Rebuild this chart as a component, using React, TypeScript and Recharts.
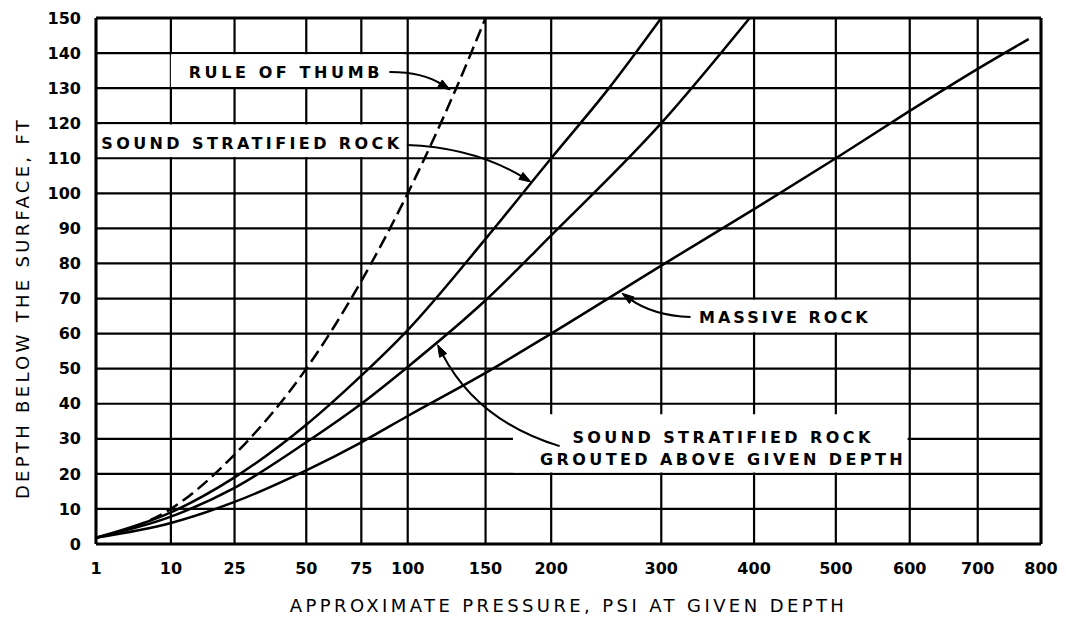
import React from 'react';
import {
  LineChart,
  Line,
  XAxis,
  YAxis,
  CartesianGrid,
  ReferenceArea,
  ReferenceLine,
  ReferenceDot,
} from 'recharts';

// ---------- axis ticks ----------
const pressureTicks = [1, 10, 25, 50, 75, 100, 150, 200, 300, 400, 500, 600, 700, 800];
const depthTicks = [0, 10, 20, 30, 40, 50, 60, 70, 80, 90, 100, 110, 120, 130, 140, 150];

// ---------- series (psi, depth ft) ----------
const ruleOfThumb = [
  { psi: 1, depth: 1.8 },
  { psi: 10, depth: 10 },
  { psi: 25, depth: 25.5 },
  { psi: 50, depth: 50 },
  { psi: 75, depth: 75 },
  { psi: 100, depth: 100 },
  { psi: 130, depth: 130 },
  { psi: 150, depth: 150 },
];
const soundStratified = [
  { psi: 1, depth: 1.8 },
  { psi: 10, depth: 9 },
  { psi: 25, depth: 19 },
  { psi: 50, depth: 34 },
  { psi: 75, depth: 48 },
  { psi: 100, depth: 61 },
  { psi: 150, depth: 87 },
  { psi: 200, depth: 110 },
  { psi: 250, depth: 130 },
  { psi: 300, depth: 150 },
];
const grouted = [
  { psi: 1, depth: 1.8 },
  { psi: 10, depth: 7.8 },
  { psi: 25, depth: 16 },
  { psi: 50, depth: 29 },
  { psi: 75, depth: 40 },
  { psi: 100, depth: 50.5 },
  { psi: 150, depth: 69.5 },
  { psi: 200, depth: 88 },
  { psi: 300, depth: 120 },
  { psi: 395, depth: 150 },
];
const massiveRock = [
  { psi: 1, depth: 1.8 },
  { psi: 10, depth: 6 },
  { psi: 25, depth: 12 },
  { psi: 50, depth: 21 },
  { psi: 75, depth: 29 },
  { psi: 100, depth: 36.5 },
  { psi: 150, depth: 48.8 },
  { psi: 200, depth: 60 },
  { psi: 300, depth: 79.4 },
  { psi: 400, depth: 95.5 },
  { psi: 500, depth: 110 },
  { psi: 600, depth: 123.5 },
  { psi: 700, depth: 135.5 },
  { psi: 780, depth: 144 },
];

// ---------- annotations (in data units) ----------
const labelBoxes = [
  { x1: 10, x2: 98, y1: 130.35, y2: 139.65 },
  { x1: 1.3, x2: 99.2, y1: 110.35, y2: 119.65 },
  { x1: 305, x2: 597, y1: 60.35, y2: 69.65 },
  { x1: 170, x2: 597, y1: 20.4, y2: 37 },
];
const notes = [
  { psi: 42, depth: 134.6, lines: ['RULE OF THUMB'], anchor: 'middle', spacing: 3.6 },
  { psi: 97, depth: 114.3, lines: ['SOUND STRATIFIED ROCK'], anchor: 'end', spacing: 3.4 },
  { psi: 339, depth: 64.7, lines: ['MASSIVE ROCK'], anchor: 'start', spacing: 3 },
  { psi: 365, depth: 27.1, lines: ['SOUND STRATIFIED ROCK', 'GROUTED ABOVE GIVEN DEPTH'], anchor: 'middle', spacing: 3.4 },
];
const arrows = [
  { from: { x: 89.7, y: 134.6 }, to: { x: 126, y: 129.5 }, bend: 0.15 },
  { from: { x: 99.5, y: 113.8 }, to: { x: 184, y: 103.2 }, bend: 0.13 },
  { from: { x: 330, y: 64.7 }, to: { x: 262, y: 71.5 }, bend: 0.15 },
  { from: { x: 207, y: 27.9 }, to: { x: 118, y: 56.8 }, bend: 0.21 },
];

const X_TITLE = 'APPROXIMATE PRESSURE, PSI AT GIVEN DEPTH';
const Y_TITLE = 'DEPTH BELOW THE SURFACE, FT';

const FONT = "'DejaVu Sans', Verdana, sans-serif";
const INK = '#000';

const makeArrow = (bend: number) => (p: any) => {
  const { x1, y1, x2, y2 } = p;
  const dx = x2 - x1;
  const dy = y2 - y1;
  const cx = (x1 + x2) / 2 + dy * bend;
  const cy = (y1 + y2) / 2 - dx * bend;
  const tx = x2 - cx;
  const ty = y2 - cy;
  const tl = Math.hypot(tx, ty) || 1;
  const ux = tx / tl;
  const uy = ty / tl;
  const L = 12;
  const W = 4;
  const bx = x2 - ux * L;
  const by = y2 - uy * L;
  const head = `M${x2},${y2} L${bx - uy * W},${by + ux * W} L${bx + uy * W},${by - ux * W} Z`;
  return (
    <g>
      <path d={`M${x1},${y1} Q${cx},${cy} ${bx + ux * 2},${by + uy * 2}`} fill="none" stroke={INK} strokeWidth={2} />
      <path d={head} fill={INK} stroke={INK} strokeWidth={1} strokeLinejoin="round" />
    </g>
  );
};

const makeNote = (lines: string[], anchor: string, spacing: number) => (p: any) => {
  const { cx, cy } = p;
  const lh = 22;
  const top = cy - ((lines.length - 1) * lh) / 2;
  return (
    <g>
      {lines.map((t, i) => (
        <text
          key={i}
          x={cx}
          y={top + i * lh}
          textAnchor={anchor as any}
          dominantBaseline="central"
          fontFamily={FONT}
          fontSize={16}
          fontWeight={700}
          letterSpacing={spacing}
          fill={INK}
        >
          {t}
        </text>
      ))}
    </g>
  );
};

const XTitle = (props: any) => {
  const vb = props.viewBox || { x: 96, y: 544, width: 945, height: 73 };
  const x = vb.x + vb.width / 2;
  const y = vb.y + 61;
  return (
    <text x={x} y={y} textAnchor="middle" dominantBaseline="central" fontFamily={FONT} fontSize={18} letterSpacing={3.4} fill={INK}>
      {X_TITLE}
    </text>
  );
};

const YTitle = (props: any) => {
  const vb = props.viewBox || { x: 8, y: 18, width: 88, height: 526 };
  const x = vb.x + 14;
  const y = vb.y + vb.height / 2 + 27;
  return (
    <text
      x={x}
      y={y}
      transform={`rotate(-90 ${x} ${y})`}
      textAnchor="middle"
      dominantBaseline="central"
      fontFamily={FONT}
      fontSize={18}
      letterSpacing={3.3}
      fill={INK}
    >
      {Y_TITLE}
    </text>
  );
};

const tickStyle = { fill: INK, fontSize: 16, fontWeight: 700, fontFamily: FONT };

export default function App() {
  return (
    <LineChart width={1050} height={609} margin={{ top: 10, right: 17, bottom: 0, left: 0 }}>
      <CartesianGrid stroke={INK} strokeWidth={2.2} />
      <XAxis
        type="number"
        dataKey="psi"
        scale="sqrt"
        domain={[1, 800]}
        ticks={pressureTicks}
        interval={0}
        allowDataOverflow
        height={73}
        tickLine={false}
        tickMargin={13}
        tick={tickStyle}
        axisLine={{ stroke: INK, strokeWidth: 3 }}
        label={{ content: XTitle }}
      />
      <YAxis
        type="number"
        dataKey="depth"
        domain={[0, 150]}
        ticks={depthTicks}
        interval={0}
        allowDataOverflow
        width={88}
        tickLine={false}
        tickMargin={9}
        tick={tickStyle}
        axisLine={{ stroke: INK, strokeWidth: 3 }}
        label={{ content: YTitle }}
      />
      {labelBoxes.map((b, i) => (
        <ReferenceArea key={`box${i}`} x1={b.x1} x2={b.x2} y1={b.y1} y2={b.y2} fill="#fff" fillOpacity={1} stroke="none" />
      ))}
      <ReferenceLine y={150} stroke={INK} strokeWidth={3} />
      <ReferenceLine x={800} stroke={INK} strokeWidth={3} />
      <Line data={ruleOfThumb} dataKey="depth" type="monotone" stroke={INK} strokeWidth={2.5} strokeDasharray="13 6" dot={false} activeDot={false} isAnimationActive={false} />
      <Line data={soundStratified} dataKey="depth" type="monotone" stroke={INK} strokeWidth={2.5} dot={false} activeDot={false} isAnimationActive={false} />
      <Line data={grouted} dataKey="depth" type="monotone" stroke={INK} strokeWidth={2.5} dot={false} activeDot={false} isAnimationActive={false} />
      <Line data={massiveRock} dataKey="depth" type="monotone" stroke={INK} strokeWidth={2.5} dot={false} activeDot={false} isAnimationActive={false} />
      {arrows.map((a, i) => (
        <ReferenceLine key={`arr${i}`} segment={[a.from, a.to]} shape={makeArrow(a.bend)} stroke={INK} />
      ))}
      {notes.map((n, i) => (
        <ReferenceDot key={`note${i}`} x={n.psi} y={n.depth} r={0} shape={makeNote(n.lines, n.anchor, n.spacing)} />
      ))}
    </LineChart>
  );
}
